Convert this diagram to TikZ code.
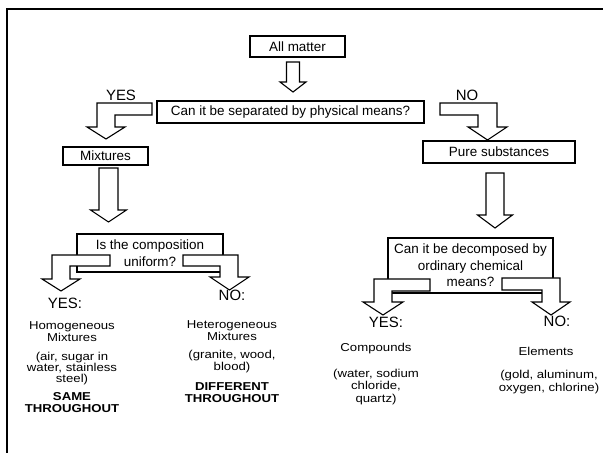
\documentclass[tikz,border=0pt]{standalone}
\usepackage{fontspec}
\setmainfont{Liberation Sans}
\newfontfamily\widefont[FakeStretch=1.15]{Liberation Sans}
\newcommand\bdown[6]{\filldraw[barrow] (#1-#4,#2) -- (#1+#4,#2) -- (#1+#4,#3-#6) -- (#1+#5,#3-#6) -- (#1,#3) -- (#1-#5,#3-#6) -- (#1-#4,#3-#6) -- cycle;}
\begin{document}
\begin{tikzpicture}[x=1bp,y=-1bp,
  box/.style={draw, line width=1.2bp, fill=white, inner sep=0pt, align=center, font=\fontsize{13.5}{16.5}\selectfont},
  barrow/.style={draw, fill=white, line width=1.1bp, line join=miter},
  yn/.style={font=\fontsize{15}{16}\selectfont, inner sep=0pt},
  txt/.style={font=\widefont\fontsize{11.5}{11.5}\selectfont, align=center, inner sep=0pt},
  rtxt/.style={font=\widefont\fontsize{11.5}{13}\selectfont, align=center, inner sep=0pt},
  btxt/.style={font=\widefont\bfseries\fontsize{11.5}{11.5}\selectfont, align=center, inner sep=0pt}]
\useasboundingbox (0,0) rectangle (603,453);
\fill[white] (0,0) rectangle (603,453);
\draw[line width=2bp] (7,453) -- (7,9) -- (603,9);

% top
\node[box, minimum width=95bp, minimum height=21bp] (all) at (297.5,46.5) {All matter};
\bdown{293}{62}{92}{6.5}{13}{10}
\node[box, minimum width=267bp, minimum height=22bp] (q1) at (290.5,112) {Can it be separated by physical means?};
\node[yn] (yes1) at (121,95) {YES};
\node[yn] (no1) at (467,95) {NO};
\filldraw[barrow] (152,103) -- (97,103) -- (97,127) -- (87,127) -- (106,139) -- (125,127) -- (115,127) -- (115,115) -- (152,115) -- cycle;
\filldraw[barrow] (440,103) -- (497,103) -- (497,127) -- (507,127) -- (487.5,140) -- (468,127) -- (478,127) -- (478,115) -- (440,115) -- cycle;

\node[box, minimum width=85bp, minimum height=18bp] (mix) at (105.5,156) {Mixtures};
\node[box, minimum width=152bp, minimum height=22bp] (pure) at (499,152) {Pure substances};
\bdown{108.5}{168}{222}{9.5}{18}{12}
\bdown{495}{173}{228}{9}{17.5}{13}

% composition question
\node[box, minimum width=146bp, minimum height=38bp] (q2) at (150,253) {Is the composition\\uniform?};
\filldraw[barrow] (110,255) -- (52,255) -- (52,279) -- (42,279) -- (61,291) -- (80,279) -- (70,279) -- (70,266) -- (110,266) -- cycle;
\filldraw[barrow] (183,255) -- (238,255) -- (238,277) -- (249,277) -- (229.5,290) -- (210,277) -- (220,277) -- (220,266) -- (183,266) -- cycle;

% decomposition question
\node[box, minimum width=165bp, minimum height=55bp] (q3) at (470.5,265.5) {Can it be decomposed by\\ordinary chemical\\means?};
\filldraw[barrow] (430,279) -- (374,279) -- (374,302) -- (363,302) -- (383,315) -- (403,302) -- (392,302) -- (392,291) -- (430,291) -- cycle;
\filldraw[barrow] (502,278) -- (560,278) -- (560,302) -- (570,302) -- (551,315) -- (532,302) -- (542,302) -- (542,290) -- (502,290) -- cycle;

% left column
\node[yn] (yes2) at (65,303) {YES:};
\node[txt] (homog) at (72,331.5) {Homogeneous\\Mixtures};
\node[txt] (homogex) at (72,368.5) {(air, sugar in\\water, stainless\\steel)};
\node[btxt] (same) at (72,402.5) {SAME\\THROUGHOUT};
% middle column
\node[yn] (no2) at (232,295) {NO:};
\node[txt] (heter) at (232,330.5) {Heterogeneous\\Mixtures};
\node[txt] (heterex) at (232,361.5) {(granite, wood,\\blood)};
\node[btxt] (diff) at (232,392.5) {DIFFERENT\\THROUGHOUT};
% right columns
\node[yn] (yes3) at (386,322) {YES:};
\node[rtxt] (comp) at (376,349) {Compounds};
\node[rtxt] (compex) at (376,387) {(water, sodium\\chloride,\\quartz)};
\node[yn] (no3) at (557,321) {NO:};
\node[rtxt] (elem) at (546,351) {Elements};
\node[rtxt] (elemex) at (549,382.5) {(gold, aluminum,\\oxygen, chlorine)};
\end{tikzpicture}
\end{document}
